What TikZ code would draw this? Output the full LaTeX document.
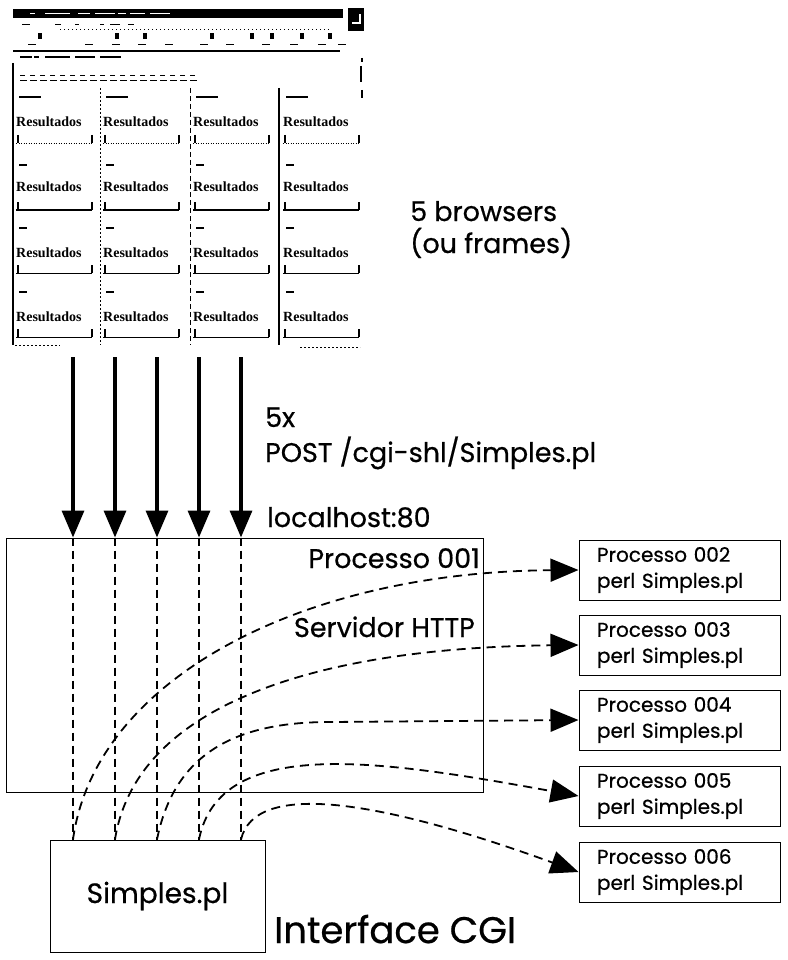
\documentclass[tikz,border=0pt]{standalone}
\usepackage{fontspec}
\setmainfont{Poppins}[FakeBold=0.6]
\newfontfamily\shotfont{Liberation Serif}
\usetikzlibrary{arrows.meta}

\begin{document}
\begin{tikzpicture}[x=1pt,y=-1pt,
  bigarrow/.style={line width=3.5pt,-{Triangle[length=27pt,width=22pt]}},
  dashline/.style={line width=1.6pt,dash pattern=on 8pt off 5pt},
  curvearrow/.style={line width=1.8pt,dash pattern=on 9pt off 6pt,-{Triangle[length=28pt,width=23pt]}},
  mainbox/.style={draw,line width=1pt,minimum width=477pt,minimum height=254pt},
  cgibox/.style={draw,line width=1pt,minimum width=215pt,minimum height=112pt,font=\fontsize{28}{32}\selectfont},
  pbox/.style={draw,line width=1pt,align=left,text width=165pt,inner xsep=18pt,minimum height=60pt,font=\fontsize{20}{26}\selectfont},
  biglabel/.style={anchor=base west,inner sep=0pt,font=\fontsize{27}{30}\selectfont},
  cell/.style={anchor=base west,inner sep=0pt,font=\shotfont\bfseries\fontsize{14}{14}\selectfont}]
\useasboundingbox (0,0) rectangle (787,960);

% browser screenshot
\node (browser) [minimum width=353pt,minimum height=342pt,inner sep=0pt] at (189,179) {};
\fill (13,9) rectangle (343,18);
\fill (348,8) rectangle (364,31);
\draw[white,line width=1.5pt] (352,23) -- (360,23) -- (360,14);
\foreach \x/\w in {30/5,45/25,78/12,95/20,118/8,130/15,150/20}
  \draw[white,line width=1.2pt] (\x,13.5) -- ++(\w,0);
\foreach \x/\w in {22/8,55/6,75/4,100/4,110/10,128/6}
  \draw[line width=1pt] (\x,25) -- ++(\w,0);
\draw[line width=0.6pt,dash pattern=on 1pt off 3pt] (60,29) -- (330,29);
\foreach \x in {38,115,143,210,250,270,300,328}
  \fill (\x,33) rectangle ++(4,6);
\foreach \x in {28,85,112,138,165,200,226,262,290,318,338}
  \draw[line width=1pt] (\x,45) -- ++(8,0);
\draw[line width=1.6pt] (13,51) -- (340,51);
\foreach \x/\w in {20/12,34/5,45/25,75/20,100/20,115/6}
  \draw[line width=1.2pt] (\x,57) -- ++(\w,0);
\draw[line width=2pt] (13,63) -- (13,345);
\draw[line width=1.5pt] (362,58) -- (362,62) (361,66) -- (361,82) (362,90) -- (362,98);
\foreach \i in {0,...,17}
  \draw[line width=1pt] ({20+10*\i},76) -- ++(5,0) ({20+10*\i},81) -- ++(7,0);
\draw[line width=1pt,dash pattern=on 2pt off 2pt] (100,88) -- (100,345);
\draw[line width=1pt,dash pattern=on 5pt off 3pt] (190,88) -- (190,345);
\draw[line width=1.6pt] (279,88) -- (279,345);
\foreach \c in {16,103,193,283} {
  \draw[line width=1.4pt] (\c+3,97) -- ++(22,0);
  \foreach \y in {165,228,292}
    \draw[line width=1.2pt] (\c+3,\y) -- ++(8,0);
  \foreach \r/\l in {127/143,192/210,257/273,321/337} {
    \node[cell] (res-\c-\r) at (\c,\r) {Resultados};
    \draw[line width=1.2pt] (\c+2,\l-8) -- (\c+2,\l) (\c+76,\l-8) -- (\c+76,\l);
  }
  \draw[line width=0.8pt,dash pattern=on 1pt off 1.5pt] (\c,143) -- ++(76,0);
  \draw[line width=1.6pt] (\c,210) -- ++(76,0);
  \draw[line width=1pt] (\c,273) -- ++(76,0);
  \draw[line width=1pt] (\c,337) -- ++(76,0);
}
\draw[line width=0.8pt,dash pattern=on 2pt off 2pt] (15,345) -- (60,345) (300,347) -- (360,347);

% labels
\node[biglabel] (browsers) at (410,221) {5 browsers};
\node[biglabel] (frames) at (410,253) {(ou frames)};
\node[biglabel] (count) at (265,427) {5x};
\node[biglabel] (post) at (265,462) {POST /cgi-shl/Simples.pl};
\node[biglabel] (host) at (267,527) {localhost:80};

% servidor e CGI
\node[mainbox] (proc1) at (244.5,665) {};
\node[biglabel,anchor=base east] (proc1name) at (480,568) {Processo 001};
\node[biglabel,anchor=base east] (server) at (475,637) {Servidor HTTP};
\node[cgibox] (simples) at (157.5,896) {Simples.pl};
\node[biglabel,font=\fontsize{37}{40}\selectfont] (cgi) at (274,943) {Interface CGI};
\foreach \n/\y in {2/570,3/645,4/720,5/796,6/872}
  \node[pbox] (p\n) at (679.5,\y) {Processo 00\n\\perl Simples.pl};

\foreach \x [count=\i] in {73,115,157,199,241} {
  \coordinate (t\i) at (\x,357);
  \draw[bigarrow] (t\i) -- (t\i |- proc1.north);
  \draw[dashline] (t\i |- proc1.north) -- (t\i |- simples.north);
}
\draw[curvearrow] (t1 |- simples.north) .. controls (95,680) and (300,572) .. (p2.west);
\draw[curvearrow] (t2 |- simples.north) .. controls (135,712) and (300,648) .. (p3.west);
\draw[curvearrow] (t3 |- simples.north) .. controls (175,750) and (240,722) .. (330,722) -- (p4.west);
\draw[curvearrow] (t4 |- simples.north) .. controls (220,735) and (380,760) .. (p5.west);
\draw[curvearrow] (t5 |- simples.north) .. controls (255,780) and (380,800) .. (p6.west);
\end{tikzpicture}
\end{document}
